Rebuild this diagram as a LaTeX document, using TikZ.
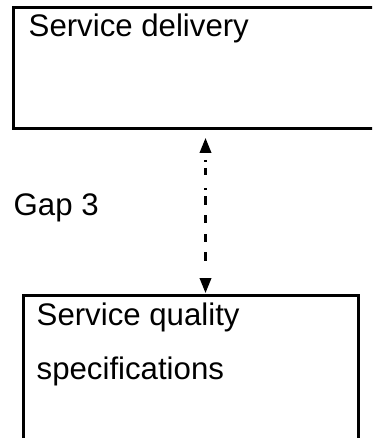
\documentclass[tikz,border=0pt]{standalone}
\usepackage{fontspec}
\setmainfont{Liberation Sans}
\usetikzlibrary{arrows.meta}
\begin{document}
\begin{tikzpicture}[x=1pt,y=-1pt,
  box/.style={draw, line width=2.7pt, outer sep=0pt, inner sep=0pt, anchor=north west},
  label/.style={anchor=base west, inner sep=0pt, font=\fontsize{31.2}{54}\selectfont},
  gaparrow/.style={line width=2.2pt, {Triangle[length=15pt,width=11.5pt]}-{Triangle[length=15pt,width=11.5pt]},
    dash pattern=on 0pt off 7.5pt on 2pt off 6pt on 7pt off 13.5pt on 2pt off 6pt on 9pt off 10pt on 8pt off 11pt on 8pt off 10pt on 9pt off 30pt}
]
\useasboundingbox (0,0) rectangle (372,438);
\clip (0,0) rectangle (372,438);
\node[box, minimum width=390pt, minimum height=120.6pt] (top) at (13.5,7.7) {};
\node[box, minimum width=335.3pt, minimum height=170pt] (bot) at (23.5,295.5) {};
\node[label] (t1) at (28.5,37) {Service delivery};
\node[label] (t2) at (36.5,325) {Service quality};
\node[label] (t3) at (36.5,379) {specifications};
\node[label] (gap) at (13.5,215) {Gap 3};
\coordinate (ax) at (205.5,0);
\draw[gaparrow, shorten <=9.7pt, shorten >=2.5pt] (top.south -| ax) -- (bot.north -| ax);
\end{tikzpicture}
\end{document}
